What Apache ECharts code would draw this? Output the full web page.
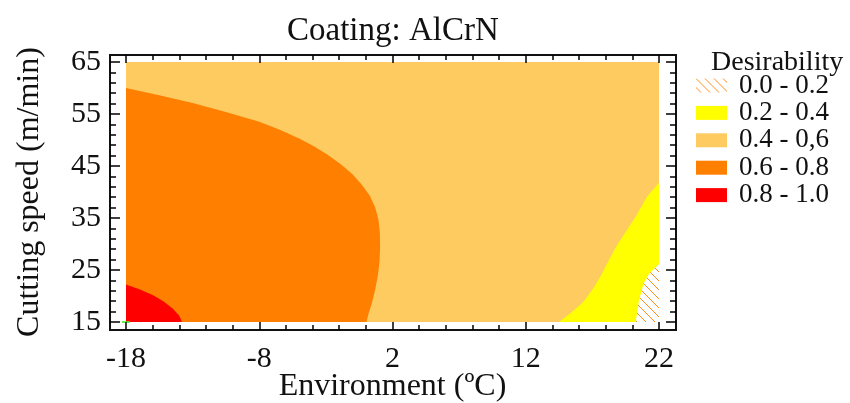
<!DOCTYPE html>
<html>
<head>
<meta charset="utf-8">
<script src="https://cdn.jsdelivr.net/npm/echarts@6.0.0/dist/echarts.min.js"></script>
<style>
html,body{margin:0;padding:0;background:#fff;}
#chart{width:850px;height:403px;}
</style>
</head>
<body>
<div id="chart"></div>
<script>
// ---- data ----
const xRange = [-18, 22];           // Environment (ºC)
const yRange = [15, 65];            // Cutting speed (m/min)
const xTickStep = 10;
const yTickStep = 10;
const legendLabels = ['0.0 - 0.2', '0.2 - 0.4', '0.4 - 0,6', '0.6 - 0.8', '0.8 - 1.0'];

// contour regions (x, y) for each desirability band
const band04_06 = [[-18, 15], [22, 15], [22, 65], [-18, 65]];
const band06_08 = [[-18, 15], [-18, 60.0], [-15.5, 58.6], [-13.0, 57.1], [-10.5, 55.4], [-8.0, 53.5],
  [-6.5, 52.0], [-5.0, 50.3], [-3.9, 48.8], [-2.9, 47.2], [-1.9, 45.4], [-1.0, 43.4], [-0.3, 41.4],
  [0.3, 39.3], [0.7, 37.0], [0.95, 34.6], [1.05, 32.2], [1.07, 29.5], [1.03, 26.7], [0.9, 23.9],
  [0.7, 21.2], [0.45, 18.6], [0.2, 16.6], [0.05, 15]];
const band08_10 = [[-18, 15], [-18, 22.2], [-17.0, 21.3], [-16.0, 20.2], [-15.2, 19.0], [-14.5, 17.6],
  [-14.0, 16.2], [-13.8, 15]];
const band02_04 = [[14.5, 15], [15.4, 16.8], [16.3, 18.8], [17.1, 21.6], [17.7, 24.2], [18.3, 27.2],
  [18.9, 30.0], [19.6, 32.7], [20.3, 35.5], [21.1, 39.1], [22, 41.8], [22, 15]];
const band00_02 = [[20.25, 15], [20.5, 19.2], [20.85, 22.4], [21.3, 24.4], [21.7, 25.4], [22, 26.1], [22, 15]];
const optimumPoint = [[-18, 15]];

// ---- styles ----
const FONT = "'Liberation Serif', 'Times New Roman', serif";
const colLight = '#FDCB60', colOrange = '#FF8000', colRed = '#FF0000', colYellow = '#FFFF00';

function makeHatch() {
  const s = 9;
  const c = document.createElement('canvas');
  c.width = s; c.height = s;
  const g = c.getContext('2d');
  g.fillStyle = '#ffffff';
  g.fillRect(0, 0, s, s);
  g.strokeStyle = '#FF8C1A';
  g.lineWidth = 1;
  g.beginPath();
  g.moveTo(-1, -1); g.lineTo(s + 1, s + 1);
  g.moveTo(-1, s - 1); g.lineTo(1, s + 1);
  g.moveTo(s - 1, -1); g.lineTo(s + 1, 1);
  g.stroke();
  return c;
}
const hatch = { image: makeHatch(), repeat: 'repeat' };

function regionSeries(name, pts, fill) {
  return {
    type: 'custom',
    name: name,
    xAxisIndex: 0,
    yAxisIndex: 0,
    data: pts,
    encode: { x: 0, y: 1 },
    itemStyle: { color: fill },
    silent: true,
    renderItem: function (params, api) {
      if (params.dataIndex !== 0) return null;
      return {
        type: 'polygon',
        shape: { points: pts.map(function (p) { return api.coord(p); }) },
        style: { fill: fill, stroke: null }
      };
    }
  };
}

const tickStyle = { color: '#000', width: 1.5 };
const hiddenLine = { show: true, onZero: false, lineStyle: { color: 'rgba(0,0,0,0)', width: 0 } };

function tickAxis(extra) {
  return Object.assign({
    type: 'value', gridIndex: 0, z: 10,
    axisLine: hiddenLine,
    nameMoveOverlap: false,
    splitLine: { show: false }, minorSplitLine: { show: false }
  }, extra);
}

const chart = echarts.init(document.getElementById('chart'));
chart.setOption({
  animation: false,
  backgroundColor: '#fff',
  title: [
    { text: 'Coating: AlCrN', left: 287, top: 15, padding: 0,
      textStyle: { fontFamily: FONT, fontSize: 33, fontWeight: 'normal', color: '#111' } },
    { text: 'Desirability', left: 711, top: 49, padding: 0,
      textStyle: { fontFamily: FONT, fontSize: 28, fontWeight: 'normal', color: '#111' } }
  ],
  legend: {
    orient: 'vertical',
    left: 696,
    top: 72,
    padding: 0,
    itemWidth: 31,
    itemHeight: 14,
    itemGap: 0.4,
    selectedMode: false,
    icon: 'rect',
    data: legendLabels,
    textStyle: { fontFamily: FONT, fontSize: 27, lineHeight: 26, color: '#111', padding: [0, 0, 0, 7] }
  },
  grid: [
    { left: 126, top: 62, width: 533, height: 260, show: false,
      outerBoundsMode: 'none', containLabel: false },
    { left: 110, top: 55, width: 566, height: 275, show: true,
      outerBoundsMode: 'none', containLabel: false,
      borderColor: '#111', borderWidth: 2, backgroundColor: 'transparent' }
  ],
  xAxis: [
    tickAxis({ position: 'bottom', min: xRange[0], max: xRange[1], interval: xTickStep, offset: 8,
      axisTick: { show: true, inside: true, length: 8, lineStyle: tickStyle },
      minorTick: { show: true, splitNumber: 5, length: 5, lineStyle: tickStyle },
      axisLabel: { fontFamily: FONT, fontSize: 30, color: '#111', margin: 14 },
      name: 'Environment (ºC)', nameLocation: 'middle', nameGap: 41,
      nameTextStyle: { fontFamily: FONT, fontSize: 32, color: '#111' } }),
    tickAxis({ position: 'top', min: xRange[0], max: xRange[1], interval: xTickStep, offset: 7,
      axisTick: { show: true, inside: true, length: 8, lineStyle: tickStyle },
      minorTick: { show: true, splitNumber: 5, length: 5, lineStyle: tickStyle },
      axisLabel: { show: false } }),
    { type: 'value', gridIndex: 1, show: false, min: 0, max: 1 }
  ],
  yAxis: [
    tickAxis({ position: 'left', min: yRange[0], max: yRange[1], interval: yTickStep, offset: 16,
      axisTick: { show: true, inside: true, length: 10, lineStyle: tickStyle },
      minorTick: { show: true, splitNumber: 5, length: 6, lineStyle: tickStyle },
      axisLabel: { fontFamily: FONT, fontSize: 30, color: '#111', margin: 9 },
      name: 'Cutting speed (m/min)', nameLocation: 'middle', nameGap: 64,
      nameTextStyle: { fontFamily: FONT, fontSize: 32, color: '#111' } }),
    tickAxis({ position: 'right', min: yRange[0], max: yRange[1], interval: yTickStep, offset: 17,
      axisTick: { show: true, inside: true, length: 10, lineStyle: tickStyle },
      minorTick: { show: true, splitNumber: 5, length: 6, lineStyle: tickStyle },
      axisLabel: { show: false } }),
    { type: 'value', gridIndex: 1, show: false, min: 0, max: 1 }
  ],
  series: [
    regionSeries(legendLabels[2], band04_06, colLight),
    regionSeries(legendLabels[3], band06_08, colOrange),
    regionSeries(legendLabels[4], band08_10, colRed),
    regionSeries(legendLabels[1], band02_04, colYellow),
    regionSeries(legendLabels[0], band00_02, hatch),
    { type: 'scatter', name: 'optimum', xAxisIndex: 0, yAxisIndex: 0, data: optimumPoint,
      symbol: 'rect', symbolSize: [8, 2], itemStyle: { color: '#44EE22' }, silent: true, z: 5 }
  ]
});
</script>
</body>
</html>
